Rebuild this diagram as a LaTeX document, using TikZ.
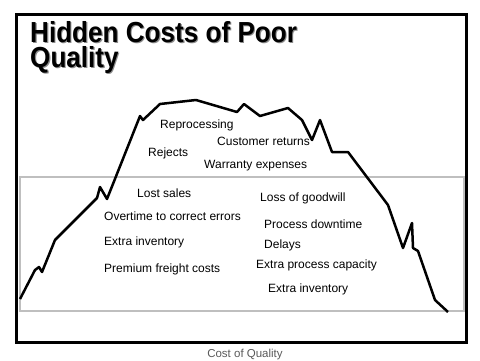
\documentclass[tikz,border=0pt]{standalone}
\usepackage{fontspec}
\setmainfont{Liberation Sans}
\usetikzlibrary{positioning}
\newcommand{\shadowtext}[1]{\scalebox{0.9}[1]{\makebox[0pt][l]{\hspace{1.2pt}\raisebox{-1.2pt}{\color{black!45}#1}}#1}}

\begin{document}
\begin{tikzpicture}[x=1pt,y=-1pt,
    cost/.style={anchor=base west,inner sep=0pt,font=\fontsize{12}{14}\selectfont},
    heading/.style={anchor=north west,inner sep=0pt,align=left,font=\fontsize{29}{25}\selectfont\bfseries}]
%   \useasboundingbox with the reference margins
    \useasboundingbox (0,0) rectangle (480,360);
    \draw[black!25,line width=2pt] (20,177) rectangle (464,311);
    \draw[line width=3pt] (16,14) rectangle (466,342);
    % the mountain
    \draw[line width=2.5pt,line join=round] (20,299) -- (35,270) -- (39,267) -- (42,272) -- (55,240)
        -- (97,198) -- (100,187) -- (107,199) -- (140,116) -- (143,120) -- (160,104)
        -- (196,100) -- (237,112) -- (244,104) -- (260,116) -- (288,108) -- (302,120)
        -- (312,140) -- (320,120) -- (332,152) -- (348,152) -- (388,205) -- (403,248)
        -- (412,223) -- (413,248) -- (418,251) -- (435,300) -- (448,312);
    \node[heading] (title) at (30,21) {\shadowtext{Hidden Costs of Poor}\\\shadowtext{Quality}};
    % above the waterline
    \node[cost] (reprocessing) at (160,128) {Reprocessing};
    \node[cost] (returns) at (217,145) {Customer returns};
    \node[cost] (rejects) at (148,156) {Rejects};
    \node[cost] (warranty) at (204,168) {Warranty expenses};
    % below the waterline
    \node[cost] (lostsales) at (137,197) {Lost sales};
    \node[cost] (goodwill) at (260,201) {Loss of goodwill};
    \node[cost] (overtime) at (104,220) {Overtime to correct errors};
    \node[cost] (downtime) at (264,228) {Process downtime};
    \node[cost] (inventoryA) at (104,245) {Extra inventory};
    \node[cost] (delays) at (264,248) {Delays};
    \node[cost] (freight) at (104,272) {Premium freight costs};
    \node[cost] (capacity) at (256,268) {Extra process capacity};
    \node[cost] (inventoryB) at (268,292) {Extra inventory};
    \node[anchor=base,inner sep=0pt,text=black!65,font=\fontsize{11.5}{13}\selectfont] (caption) at (245,357) {Cost of Quality};
\end{tikzpicture}
\end{document}
